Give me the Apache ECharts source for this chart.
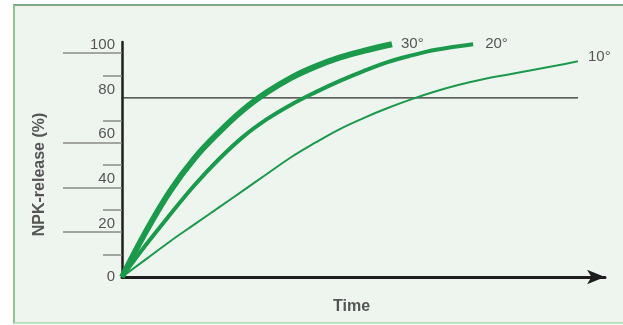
<!DOCTYPE html>
<html>
<head>
<meta charset="utf-8">
<script src="https://cdn.jsdelivr.net/npm/echarts@6/dist/echarts.min.js"></script>
<style>
html,body{margin:0;padding:0;background:#ffffff;}
#wrap{position:relative;width:623px;height:325px;overflow:hidden;}
#frame{position:absolute;left:13px;top:4px;width:610px;height:316px;background:#eef5ef;
  border-top:2px solid #7fa987;border-left:2px solid #8cc497;border-bottom:2px solid #b8e2bf;}
#chart{position:absolute;left:0;top:0;width:623px;height:325px;}
</style>
</head>
<body>
<div id="wrap"><div id="frame"></div><div id="chart"></div></div>
<script>
// Data
const seriesNames = ['30°', '20°', '10°'];
const t30 = [0, 5, 10, 15, 20, 25, 30, 35, 40, 45, 50, 55.9];
const v30 = [0, 20.5, 38.5, 53, 64.5, 74.5, 82.5, 89, 94, 98, 101, 104];
const t20 = [0, 5, 10, 15, 20, 25, 30, 35, 40, 45, 50, 55, 60, 65, 72.7];
const v20 = [0, 14.5, 28, 41, 52.5, 62.5, 70.5, 77, 82.5, 87.5, 92, 96, 99, 101.5, 104];
const t10 = [0, 5, 10, 15, 20, 25, 30, 35, 40, 45, 50, 55, 60, 65, 70, 75, 80, 85, 90, 94.4];
const v10 = [0, 8, 16, 23.5, 31, 38.5, 46, 53.5, 60, 66, 71, 75.5, 79.5, 83, 86, 88.5, 90.5, 92.5, 94.5, 96.4];
const yTickLabels = [0, 20, 40, 60, 80, 100];
const yMajorTicks = [20, 40, 60, 100];
const yMinorTicks = [10, 30, 50, 70, 90];
const refLineValue = 80;
const refLineX = [-12.2, 94.4];

const zip = (a, b) => a.map((x, i) => [x, b[i]]);
const green = '#1a9a4a';
const textGrey = '#555555';
const font = '"Liberation Sans", Arial, sans-serif';

const chart = echarts.init(document.getElementById('chart'), null, {renderer: 'canvas'});
const widths = [6, 4, 2];
const offsets = [[1, 0], [4, 0], [2, -4]];
const datas = [zip(t30, v30), zip(t20, v20), zip(t10, v10)];

const series = [{
  name: 'ref80',
  type: 'line',
  data: refLineX.map(x => [x, refLineValue]),
  showSymbol: false, symbol: 'none', clip: false, silent: true,
  lineStyle: {color: '#2b2b2b', width: 1.2},
  z: 2
}];

seriesNames.forEach((n, i) => series.push({
  name: n,
  type: 'line',
  data: datas[i],
  smooth: 0.4,
  showSymbol: false,
  symbol: 'none',
  clip: false,
  lineStyle: {color: green, width: widths[i], cap: 'butt'},
  endLabel: {
    show: true, formatter: n, color: textGrey, fontSize: 15, fontFamily: font,
    offset: offsets[i]
  },
  z: 3
}));

chart.setOption({
  backgroundColor: 'transparent',
  animation: false,
  grid: {left: 122, right: 18, top: 42, bottom: 48, containLabel: false},
  xAxis: {
    type: 'value', min: 0, max: 100,
    name: 'Time', nameLocation: 'middle', nameGap: 22,
    nameTextStyle: {color: textGrey, fontSize: 16, fontWeight: 'bold', fontFamily: font,
      padding: [0, 24, 0, 0]},
    axisLine: {show: true, symbol: ['none', 'arrow'], symbolSize: [11, 18],
      lineStyle: {color: '#1e1e1e', width: 3}},
    axisTick: {show: false}, axisLabel: {show: false}, splitLine: {show: false}
  },
  yAxis: [{
    type: 'value', min: 0, max: 105,
    name: 'NPK-release (%)', nameLocation: 'middle', nameGap: 74,
    nameTextStyle: {color: textGrey, fontSize: 16, fontWeight: 'bold', fontFamily: font,
      padding: [0, 30, 0, 0]},
    axisLine: {show: true, onZero: false, lineStyle: {color: '#1e1e1e', width: 2.5}},
    axisTick: {show: true, customValues: yMajorTicks, length: 59, lineStyle: {color: '#8a8a8a', width: 1.5}},
    axisLabel: {
      show: true, customValues: yTickLabels, margin: 7,
      color: textGrey, fontSize: 15, fontFamily: font,
      formatter: v => v === 0 ? '{z|0}' : '{u|' + v + '}',
      rich: {
        u: {color: textGrey, fontSize: 15, fontFamily: font, padding: [0, 0, 17, 0]},
        z: {color: textGrey, fontSize: 15, fontFamily: font}
      }
    },
    splitLine: {show: false}
  }, {
    type: 'value', min: 0, max: 105, position: 'left',
    axisLine: {show: false},
    axisTick: {show: true, customValues: yMinorTicks, length: 19, lineStyle: {color: '#8a8a8a', width: 1.5}},
    axisLabel: {show: false}, splitLine: {show: false}
  }],
  series: series
});
</script>
</body>
</html>
